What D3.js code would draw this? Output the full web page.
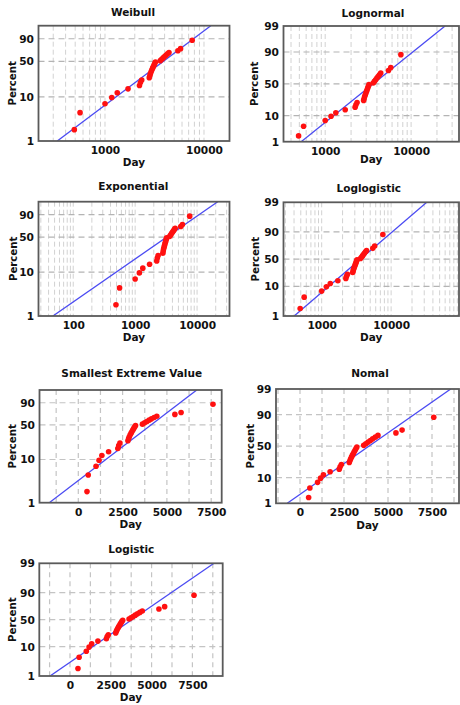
<!DOCTYPE html>
<html><head><meta charset="utf-8">
<script src="https://cdn.jsdelivr.net/npm/d3@7"></script>
<style>
body{margin:0;background:#fff;}
svg{display:block;font-family:"DejaVu Sans",sans-serif;}
</style></head><body>
<svg id="c" width="460" height="705"></svg>
<script>
// ---------- data ----------
const failureDays = [490,560,1000,1170,1330,1710,2230,2280,2350,2800,2840,2880,2930,2980,3030,3080,3130,3180,3230,3620,3740,3870,4000,4130,4280,4430,5450,5800,7600];
const failurePercent = [1.82,4.43,7.03,9.64,12.24,14.84,17.45,20.05,22.66,25.26,27.86,30.47,33.07,35.68,38.28,40.89,43.49,46.09,48.70,51.30,53.91,56.51,59.11,61.72,64.32,66.93,70.5,74.3,88.0];

const plotTitles = ["Weibull","Lognormal","Exponential","Loglogistic","Smallest Extreme Value","Nomal","Logistic"];
const paperType = ["sev","normal","sev","logistic","sev","normal","logistic"];
const xScaleType = ["log","log","log","log","linear","linear","linear"];
const xDomains = [[213,18100],[327,36100],[27.5,33400],[282,95000],[-2190,8093],[-1364,9034],[-1880,9357]];
const xTickValues = [[1000,10000],[1000,10000],[100,1000,10000],[1000,10000],[0,2500,5000,7500],[0,2500,5000,7500],[0,2500,5000,7500]];
const yTickValues = [[1,10,50,90],[1,10,50,90,99],[1,10,50,90],[1,10,50,90,99],[1,10,50,90],[1,10,50,90,99],[1,10,50,90,99]];
const yGridValues = [10,50,90];
const yDomainPercent = [1,99];
// fitted line: transformed x = location + scale * quantile(p)  (log10 days for log plots)
const fitLocation = [3.682,3.558,3.67,3.5585,4610,3920,3800];
const fitScale = [0.2531,0.360,0.4343,0.2077,1358,1996,1093];

// ---------- layout ----------
const frames = [[38.5,25.7,229.5,141],[283.5,26,459,141.7],[38.5,201.7,229.5,316],[283.5,202.3,459,316],
                [39.5,390,221.7,502.7],[276,389,459,503.3],[39.3,563.3,222.7,676]];
const titlePos = [[133,11.7],[373,13],[133.3,185.7],[368.8,188],[131.7,373.3],[370,373],[131.3,548.8]];
const percentX = [12.2,254,12.5,255,11.7,250,11.7];
const dayOffset = [20.5,17,21,20.5,21.5,21.7,21];

function qnorm(p){
 const a=[-3.969683028665376e+01,2.209460984245205e+02,-2.759285104469687e+02,1.383577518672690e+02,-3.066479806614716e+01,2.506628277459239e+00];
 const b=[-5.447609879822406e+01,1.615858368580409e+02,-1.556989798598866e+02,6.680131188771972e+01,-1.328068155288572e+01];
 const c=[-7.784894002430293e-03,-3.223964580411365e-01,-2.400758277161838e+00,-2.549732539343734e+00,4.374664141464968e+00,2.938163982698783e+00];
 const d=[7.784695709041462e-03,3.224671290700398e-01,2.445134137142996e+00,3.754408661907416e+00];
 const pl=0.02425;
 if(p<pl){const q=Math.sqrt(-2*Math.log(p));return (((((c[0]*q+c[1])*q+c[2])*q+c[3])*q+c[4])*q+c[5])/((((d[0]*q+d[1])*q+d[2])*q+d[3])*q+1);}
 if(p>1-pl){const q=Math.sqrt(-2*Math.log(1-p));return -(((((c[0]*q+c[1])*q+c[2])*q+c[3])*q+c[4])*q+c[5])/((((d[0]*q+d[1])*q+d[2])*q+d[3])*q+1);}
 const q=p-0.5,r=q*q;return (((((a[0]*r+a[1])*r+a[2])*r+a[3])*r+a[4])*r+a[5])*q/(((((b[0]*r+b[1])*r+b[2])*r+b[3])*r+b[4])*r+1);
}
const quantile = {
  sev: p => Math.log(-Math.log(1-p)),
  normal: p => qnorm(p),
  logistic: p => Math.log(p/(1-p))
};

const svg = d3.select("#c");
const FONT_BOLD = "bold";

plotTitles.forEach((title,i)=>{
  const [L,T,R,B] = frames[i];
  const Q = quantile[paperType[i]];
  const isLog = xScaleType[i]==="log";
  const x = (isLog ? d3.scaleLog() : d3.scaleLinear()).domain(xDomains[i]).range([L,R]);
  const y = d3.scaleLinear().domain(yDomainPercent.map(p=>Q(p/100))).range([B,T]);
  const g = svg.append("g");
  const clipId = "clip"+i;
  svg.append("clipPath").attr("id",clipId).append("rect").attr("x",L).attr("y",T).attr("width",R-L).attr("height",B-T);

  // vertical grid
  let vGrid = [];
  const [d0,d1] = xDomains[i];
  if(isLog){
    for(let k=Math.floor(Math.log10(d0)); k<=Math.ceil(Math.log10(d1)); k++){
      for(let m=1;m<=9;m++){ const v=m*Math.pow(10,k); if(v>d0*1.01 && v<d1*0.99) vGrid.push(v); }
    }
  } else {
    for(let v=Math.ceil(d0/1250)*1250; v<d1; v+=1250) vGrid.push(v);
  }
  g.append("g").selectAll("line").data(vGrid).join("line")
    .attr("x1",d=>x(d)).attr("x2",d=>x(d)).attr("y1",T).attr("y2",B)
    .attr("stroke", isLog ? "#d2d2d2" : "#c4c4c4").attr("stroke-width", isLog?1:1.2)
    .attr("stroke-dasharray", isLog ? "5,3" : "5,4");
  // horizontal grid
  g.append("g").selectAll("line").data(yGridValues).join("line")
    .attr("x1",L).attr("x2",R).attr("y1",d=>y(Q(d/100))).attr("y2",d=>y(Q(d/100)))
    .attr("stroke", isLog ? "#b4b4b4" : "#c4c4c4").attr("stroke-width",1.2)
    .attr("stroke-dasharray","6,4");

  // fitted line
  const pLo = yDomainPercent[0]/100, pHi = yDomainPercent[1]/100;
  const toDay = v => isLog ? Math.pow(10,v) : v;
  const fitPts = [pLo,pHi].map(p=>[toDay(fitLocation[i]+fitScale[i]*Q(p)), p]);
  g.append("path").attr("clip-path",`url(#${clipId})`)
    .attr("d", d3.line().x(d=>x(d[0])).y(d=>y(Q(d[1])))(fitPts))
    .attr("fill","none").attr("stroke","#4a4af2").attr("stroke-width",1.3);

  // points
  g.append("g").selectAll("circle").data(failureDays.map((d,j)=>[d,failurePercent[j]])).join("circle")
    .attr("cx",d=>x(d[0])).attr("cy",d=>y(Q(d[1]/100))).attr("r",2.8).attr("fill","#ff1010");

  // frame
  g.append("rect").attr("x",L).attr("y",T).attr("width",R-L).attr("height",B-T)
    .attr("fill","none").attr("stroke","#5a5a5a").attr("stroke-width",1.8);

  // axes
  const xa = g.append("g").attr("transform",`translate(0,${B})`)
    .call(d3.axisBottom(x).tickValues(xTickValues[i]).tickFormat(d3.format("d")).tickSize(0).tickPadding(5.3));
  const yv = yTickValues[i];
  const ya = g.append("g").attr("transform",`translate(${L},0)`)
    .call(d3.axisLeft(y).tickValues(yv.map(p=>Q(p/100))).tickFormat((d,k)=>yv[k]).tickSize(0).tickPadding(4.5));
  [xa,ya].forEach(a=>{
    a.select(".domain").remove();
    a.selectAll("text").attr("font-family","DejaVu Sans").attr("font-weight",FONT_BOLD).attr("font-size","10.6px").attr("fill","#111");
  });

  // titles
  g.append("text").attr("x",titlePos[i][0]).attr("y",titlePos[i][1]+4).attr("text-anchor","middle")
    .attr("font-weight",FONT_BOLD).attr("font-size","10.5px").attr("fill","#111").text(title);
  g.append("text").attr("x",(L+R)/2).attr("y",B+dayOffset[i]+4).attr("text-anchor","middle")
    .attr("font-weight",FONT_BOLD).attr("font-size","10.5px").attr("fill","#111").text("Day");
  g.append("text").attr("transform",`translate(${percentX[i]+4},${(T+B)/2}) rotate(-90)`).attr("text-anchor","middle")
    .attr("font-weight",FONT_BOLD).attr("font-size","10.2px").attr("fill","#111").text("Percent");
});
</script>
</body></html>
